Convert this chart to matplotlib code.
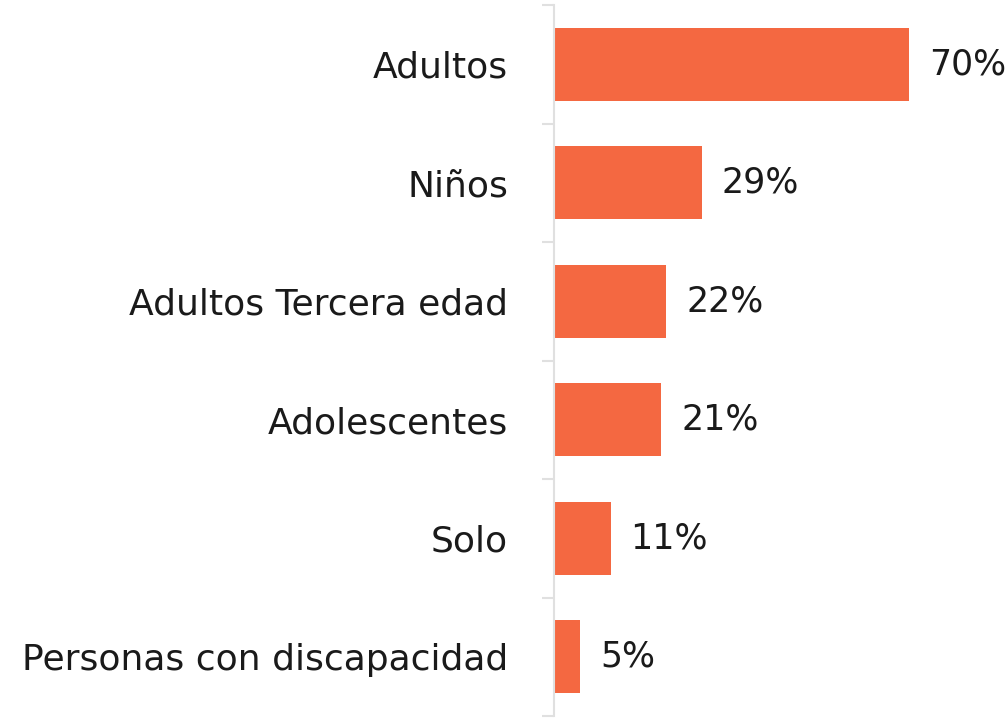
import matplotlib
matplotlib.use("Agg")
import matplotlib.pyplot as plt

categories = ["Adultos", "Niños", "Adultos Tercera edad", "Adolescentes", "Solo", "Personas con discapacidad"]
values = [70, 29, 22, 21, 11, 5]
value_labels = ["70%", "29%", "22%", "21%", "11%", "5%"]

bar_color = "#F46841"
text_color = "#1a1a1a"
axis_color = "#e0e0e0"

W, H = 1006, 718
fig = plt.figure(figsize=(W / 100, H / 100), dpi=100)
ax_left, ax_right = 554, 1006
ax_top, ax_bottom = 5, 716
ax = fig.add_axes([ax_left / W, (H - ax_bottom) / H, (ax_right - ax_left) / W, (ax_bottom - ax_top) / H])

n = len(categories)
pos = list(range(n))
ax.barh(pos, values, height=0.62, color=bar_color, left=0.2)
ax.set_ylim(n - 0.5, -0.5)
ax.set_xlim(0, 89.3)

for p, v, lab in zip(pos, values, value_labels):
    ax.text(v + 0.2 + 3.9, p, lab, va="center", ha="left", fontsize=25, color=text_color,
            fontfamily="DejaVu Sans")

ax.set_yticks(pos)
ax.set_yticklabels(categories, fontsize=26, color=text_color, fontfamily="DejaVu Sans")
ax.set_yticks([i - 0.5 for i in range(n + 1)], minor=True)
ax.tick_params(axis="y", which="major", length=0, pad=33)
ax.tick_params(axis="y", which="minor", length=9, width=1.5, color=axis_color)
ax.set_xticks([])
for s in ["top", "right", "bottom"]:
    ax.spines[s].set_visible(False)
ax.spines["left"].set_color(axis_color)
ax.spines["left"].set_linewidth(1.5)

fig.savefig("out.png", dpi=100)
